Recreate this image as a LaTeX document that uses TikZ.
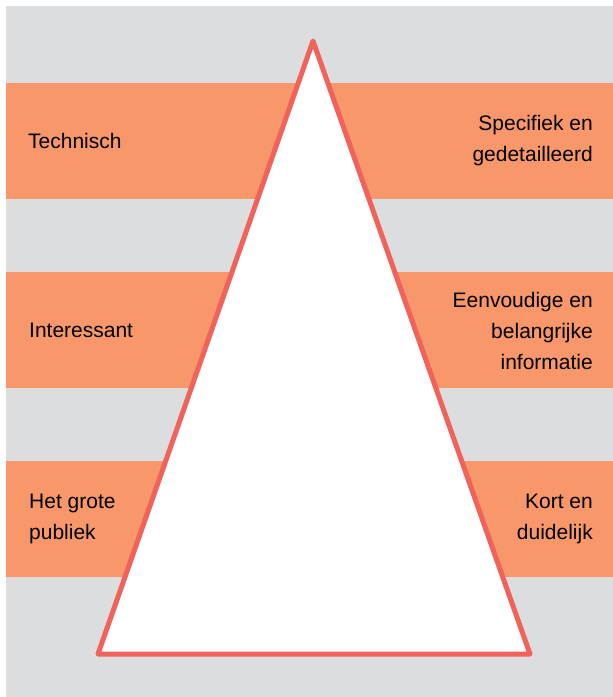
\documentclass[tikz,border=0pt]{standalone}
\usepackage{fontspec}
\setmainfont{Liberation Sans}
\usepackage{xcolor}
\definecolor{bggray}{HTML}{DCDDDF}
\definecolor{bandorange}{HTML}{F7976A}
\definecolor{pyrred}{HTML}{F0625A}

\begin{document}
\begin{tikzpicture}[x=1pt,y=-1pt]
        \tikzset{band/.style={fill=bandorange,draw=none},
            pyramid/.style={draw=pyrred,fill=white,line width=5pt,line join=round},
            lefttext/.style={anchor=west,align=left,inner sep=0pt,
                font=\fontsize{21}{31}\selectfont},
            righttext/.style={anchor=east,align=right,inner sep=0pt,
                font=\fontsize{21}{31}\selectfont}}
        \useasboundingbox (0,0) rectangle (613,697);
        \fill[bggray] (6,6) rectangle (613,697);
        % bands
        \foreach \top in {83,272,461}
            \fill[band] (6,\top) rectangle (613,\top+116);
        % pyramid
        \coordinate (apex) at (313,41);
        \coordinate (baseL) at (98,654);
        \coordinate (baseR) at (530,654);
        \draw[pyramid] (apex) -- (baseR) -- (baseL) -- cycle;
        % labels
        \node[lefttext] (technisch) at (28,141) {Technisch};
        \node[lefttext] (interessant) at (29,330) {Interessant};
        \node[lefttext] (publiek) at (29,519) {Het grote\\publiek};
        \node[righttext] (specifiek) at (593,141) {Specifiek en\\gedetailleerd};
        \node[righttext] (eenvoudig) at (593,331) {Eenvoudige en\\belangrijke\\informatie};
        \node[righttext] (kort) at (593,519) {Kort en\\duidelijk};
    \end{tikzpicture}
\end{document}
